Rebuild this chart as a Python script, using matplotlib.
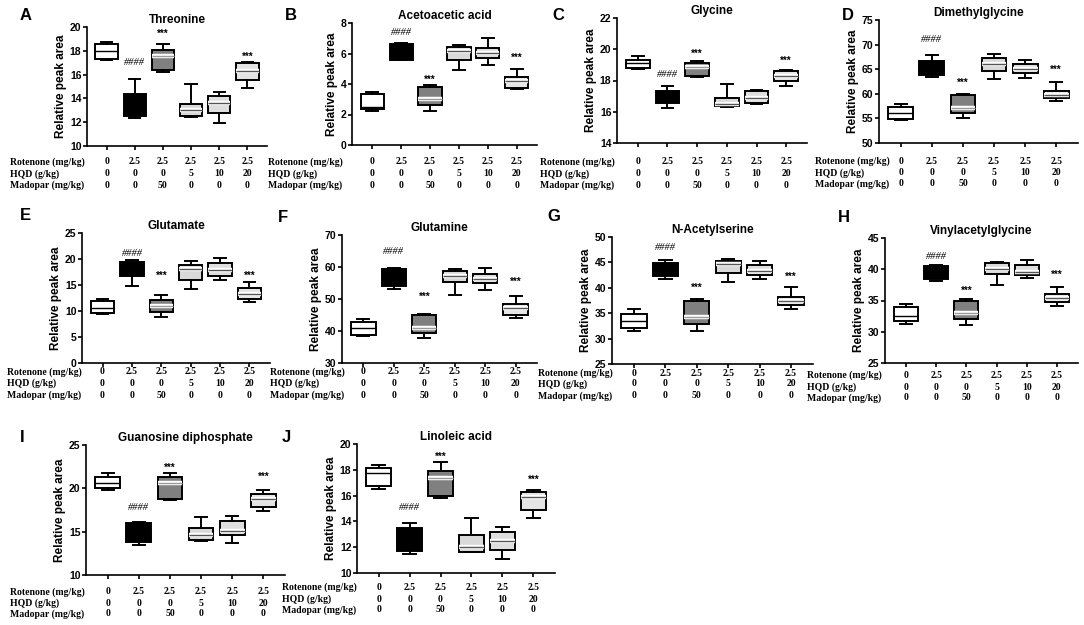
import matplotlib
matplotlib.use("Agg")
import matplotlib.pyplot as plt
import matplotlib.transforms as mtransforms
import matplotlib.patheffects as pe

# box stats per group: [whislo, q1, med, q3, whishi]
threonine = [[17.2, 17.35, 18.0, 18.6, 18.7], [12.35, 12.55, 12.7, 14.35, 15.65],
             [16.2, 16.35, 17.6, 18.05, 18.55], [12.45, 12.5, 13.0, 13.55, 15.2],
             [11.95, 12.8, 13.6, 14.2, 14.55], [14.85, 15.55, 16.3, 17.0, 17.1]]
acetoacetic = [[2.25, 2.36, 2.5, 3.32, 3.5], [5.55, 5.6, 6.0, 6.65, 6.7],
               [2.2, 2.62, 3.0, 3.83, 3.95], [4.9, 5.6, 6.15, 6.43, 6.58],
               [5.25, 5.73, 6.04, 6.37, 7.04], [3.65, 3.77, 4.18, 4.43, 4.97]]
glycine = [[18.72, 18.82, 19.1, 19.32, 19.55], [16.27, 16.53, 16.95, 17.34, 17.65],
           [18.24, 18.31, 18.85, 19.1, 19.25], [16.3, 16.36, 16.5, 16.9, 17.75],
           [16.5, 16.53, 16.9, 17.34, 17.4], [17.64, 17.97, 18.29, 18.6, 18.67]]
dimethylglycine = [[54.7, 54.9, 56.1, 57.3, 57.9], [63.4, 63.9, 65.0, 66.6, 67.8],
                   [55.0, 56.1, 57.1, 59.8, 60.0], [63.0, 64.7, 66.0, 67.2, 68.1],
                   [63.3, 64.3, 65.1, 66.1, 66.9], [58.6, 59.1, 59.8, 60.6, 62.3]]
glutamate = [[9.5, 9.6, 10.5, 12.0, 12.3], [14.9, 16.7, 17.9, 19.4, 19.8],
             [8.8, 9.9, 11.0, 12.2, 13.1], [14.3, 15.9, 18.1, 18.8, 19.7],
             [16.0, 16.8, 17.9, 19.2, 20.2], [11.7, 12.4, 13.3, 14.4, 15.6]]
glutamine = [[38.3, 38.6, 40.9, 42.8, 43.9], [53.2, 54.1, 57.0, 59.3, 59.6],
             [37.8, 39.4, 40.9, 45.1, 45.4], [51.4, 55.3, 57.2, 58.9, 59.5],
             [52.9, 54.9, 56.2, 57.9, 59.8], [44.0, 45.1, 47.2, 48.4, 50.8]]
acetylserine = [[31.5, 32.0, 33.5, 34.8, 35.8], [41.8, 42.3, 43.8, 44.8, 45.5],
                [31.5, 32.9, 34.3, 37.5, 37.7], [41.2, 43.0, 44.6, 45.2, 45.7],
                [41.8, 42.6, 43.3, 44.4, 45.3], [35.9, 36.6, 37.4, 38.2, 40.1]]
vinylacetylglycine = [[31.2, 31.7, 32.6, 34.0, 34.5], [38.2, 38.5, 39.7, 40.6, 40.7],
                      [31.1, 32.1, 33.0, 34.9, 35.2], [37.5, 39.3, 40.0, 41.0, 41.2],
                      [38.6, 39.1, 39.6, 40.7, 41.5], [34.1, 34.8, 35.4, 36.0, 37.2]]
gdp = [[19.8, 20.0, 20.6, 21.3, 21.8], [13.5, 13.8, 14.8, 16.0, 16.1],
       [18.65, 18.75, 20.6, 21.3, 21.8], [13.95, 14.0, 14.6, 15.45, 16.65],
       [13.65, 14.6, 15.1, 16.2, 16.8], [17.4, 17.9, 18.8, 19.3, 19.8]]
linoleic = [[16.55, 16.75, 17.75, 18.15, 18.35], [11.45, 11.7, 12.6, 13.5, 13.85],
            [15.85, 16.0, 17.35, 17.9, 18.6], [11.6, 11.65, 12.0, 12.95, 14.3],
            [11.05, 11.8, 12.45, 13.15, 13.55], [14.3, 14.85, 15.9, 16.25, 16.4]]

rotenone = ["0", "2.5", "2.5", "2.5", "2.5", "2.5"]
hqd = ["0", "0", "0", "5", "10", "20"]
madopar = ["0", "0", "50", "0", "0", "0"]
row_labels = ["Rotenone (mg/kg)", "HQD (g/kg)", "Madopar (mg/kg)"]

box_colors = ["white", "black", "#808080", "#d9d9d9", "#dedede", "#e4e4e4"]
median_colors = ["black", "black", "#9a9a9a", "#555555", "#555555", "#555555"]

W, H = 1084, 625

# letter, title, data, ylim, step, axes px box (left, right, top, bottom),
# label x, letter pos, table row y, #### y, *** y (group 3, group 6)
panels = [
    ("A", "Threonine", threonine, (10, 20), 2, (87, 267, 27, 146), 10, (20, 15), (162, 174, 185), 17.0, (19.4, 17.5)),
    ("B", "Acetoacetic acid", acetoacetic, (0, 8), 2, (352, 537, 23, 145), 268, (285, 15), (162, 174, 185), 7.35, (4.3, 5.7)),
    ("C", "Glycine", glycine, (14, 22), 2, (617, 807, 18, 143), 540, (552, 15), (162, 174, 185), 18.4, (19.7, 19.25)),
    ("D", "Dimethylglycine", dimethylglycine, (50, 75), 5, (879, 1078, 20, 143), 815, (842, 15), (161, 173, 184), 71.0, (62.2, 64.9)),
    ("E", "Glutamate", glutamate, (0, 25), 5, (82, 270, 233, 363), 7, (20, 215), (372, 383, 395), 21.0, (16.8, 16.8)),
    ("F", "Glutamine", glutamine, (30, 70), 10, (342, 537, 235, 363), 270, (278, 218), (372, 383, 395), 64.8, (50.6, 55.5)),
    ("G", "N-Acetylserine", acetylserine, (25, 50), 5, (612, 813, 237, 364), 538, (547, 217), (373, 384, 396), 48.0, (39.9, 42.1)),
    ("H", "Vinylacetylglycine", vinylacetylglycine, (25, 45), 5, (885, 1078, 238, 363), 807, (838, 218), (375, 387, 398), 42.0, (36.6, 39.1)),
    ("I", "Guanosine diphosphate", gdp, (10, 25), 5, (86, 285, 445, 575), 10, (20, 437), (592, 603, 614), 17.8, (22.4, 21.3)),
    ("J", "Linoleic acid", linoleic, (10, 20), 2, (357, 555, 444, 573), 282, (282, 437), (587, 599, 610), 15.1, (19.0, 17.2)),
]

sans = ["Liberation Sans", "DejaVu Sans"]
serif = ["Liberation Serif", "DejaVu Serif"]

fig = plt.figure(figsize=(W / 100, H / 100), dpi=100)

for letter, title, data, ylim, step, box, lab_x, let_pos, rows_y, hash_y, star_y in panels:
    left, right, top, bottom = box
    ax = fig.add_axes([left / W, 1 - bottom / H, (right - left) / W, (bottom - top) / H])
    stats = [dict(whislo=v[0], q1=v[1], med=v[2], q3=v[3], whishi=v[4]) for v in data]
    bp = ax.bxp(stats, positions=range(1, 7), widths=0.8, showfliers=False,
                patch_artist=True,
                boxprops=dict(linewidth=1.4, edgecolor="black"),
                whiskerprops=dict(linewidth=1.4, color="black"),
                capprops=dict(linewidth=1.4, color="black"),
                medianprops=dict(linewidth=1.0))
    for patch, c in zip(bp["boxes"], box_colors):
        patch.set_facecolor(c)
    for i, (med, c) in enumerate(zip(bp["medians"], median_colors)):
        med.set_color(c)
        if i >= 2:
            med.set_path_effects([pe.withStroke(linewidth=3.2, foreground="white")])

    ax.set_xlim(0.3, 6.7)
    ax.set_ylim(*ylim)
    ax.set_yticks(range(ylim[0], ylim[1] + 1, step))
    ax.set_xticks(range(1, 7))
    ax.set_xticklabels([])
    for s in ["top", "right"]:
        ax.spines[s].set_visible(False)
    for s in ["left", "bottom"]:
        ax.spines[s].set_linewidth(1.2)
    ax.tick_params(axis="both", direction="out", length=3, width=1.2, labelsize=7.5, pad=1)
    for t in ax.get_yticklabels():
        t.set_fontweight("bold")
        t.set_family(sans)
    ax.set_ylabel("Relative peak area", fontsize=8.5, fontweight="bold", family=sans, labelpad=2)
    ax.set_title(title, fontsize=8.5, fontweight="bold", family=sans, pad=3)

    ax.text(2, hash_y, "####", ha="center", va="center", fontsize=7.5, style="italic", family=serif)
    ax.text(3, star_y[0], "***", ha="center", va="center", fontsize=7, fontweight="bold", family=sans)
    ax.text(6, star_y[1], "***", ha="center", va="center", fontsize=7, fontweight="bold", family=sans)

    fig.text(let_pos[0] / W, 1 - let_pos[1] / H, letter, ha="left", va="center",
             fontsize=12, fontweight="bold", family=sans)

    # treatment table under the axis
    trans = mtransforms.blended_transform_factory(ax.transData, fig.transFigure)
    for name, vals, y in zip(row_labels, [rotenone, hqd, madopar], rows_y):
        fig.text(lab_x / W, 1 - y / H, name, ha="left", va="center",
                 fontsize=7, fontweight="bold", family=serif)
        for i, v in enumerate(vals):
            ax.text(i + 1, 1 - y / H, v, transform=trans, ha="center", va="center",
                    fontsize=7, fontweight="bold", family=serif, clip_on=False)

fig.savefig("out.png", dpi=100)
